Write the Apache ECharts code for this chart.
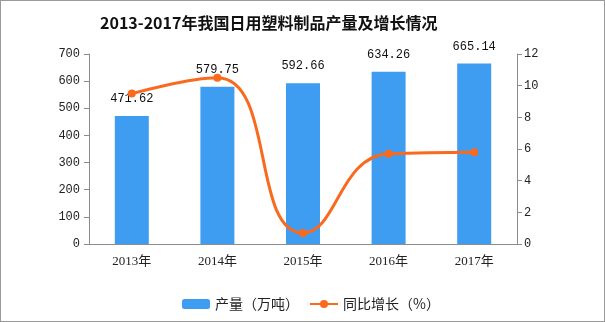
<!DOCTYPE html>
<html>
<head>
<meta charset="utf-8">
<script src="https://cdn.jsdelivr.net/npm/echarts@6/dist/echarts.min.js"></script>
<style>
  html, body { margin: 0; padding: 0; background: #fff; }
  #chart { width: 603px; height: 320px; border: 1px solid #9a9a9a; }
</style>
</head>
<body>
<div id="chart"></div>
<script>
// Yearly output of daily-use plastic products and its year-on-year growth
const years = ['2013年', '2014年', '2015年', '2016年', '2017年'];
const output = [471.62, 579.75, 592.66, 634.26, 665.14];   // 万吨
const growth = [9.5, 10.5, 0.7, 5.7, 5.8];                   // %
const leftTicks = { min: 0, max: 700, interval: 100 };
const rightTicks = { min: 0, max: 12, interval: 2 };

const mono = '"Liberation Mono", "Noto Sans CJK SC", monospace';
const serif = '"Liberation Serif", "Noto Sans CJK SC", serif';
const cjk = '"Noto Sans CJK SC", sans-serif';
const axisGray = '#8c8c8c';

const chart = echarts.init(document.getElementById('chart'), null, { renderer: 'canvas' });
chart.setOption({
  animation: false,
  title: {
    text: '2013-2017年我国日用塑料制品产量及增长情况',
    left: 94,
    top: 9,
    textStyle: { fontFamily: cjk, fontSize: 16, fontWeight: 'bold', color: '#111' }
  },
  legend: {
    left: 176,
    top: 291,
    itemWidth: 28,
    itemHeight: 10,
    itemGap: 10,
    textStyle: { fontFamily: cjk, fontSize: 14, color: '#222' },
    data: ['产量（万吨）', '同比增长（%）']
  },
  grid: { left: 88, right: 87, top: 53, bottom: 77 },
  xAxis: {
    type: 'category',
    data: years,
    axisLine: { lineStyle: { color: axisGray } },
    axisTick: { alignWithLabel: false, length: 5, lineStyle: { color: axisGray } },
    axisLabel: { fontFamily: serif, fontSize: 13, color: '#222', margin: 11 }
  },
  yAxis: [
    {
      type: 'value',
      min: leftTicks.min, max: leftTicks.max, interval: leftTicks.interval,
      axisLine: { show: true, lineStyle: { color: axisGray } },
      axisTick: { show: true, length: 5, lineStyle: { color: axisGray } },
      splitLine: { show: false },
      axisLabel: { fontFamily: mono, fontSize: 12, color: '#222', margin: 9 }
    },
    {
      type: 'value',
      min: rightTicks.min, max: rightTicks.max, interval: rightTicks.interval,
      axisLine: { show: true, lineStyle: { color: axisGray } },
      axisTick: { show: true, length: 5, lineStyle: { color: axisGray } },
      splitLine: { show: false },
      axisLabel: { fontFamily: mono, fontSize: 12, color: '#222', margin: 7 }
    }
  ],
  series: [
    {
      name: '产量（万吨）',
      type: 'bar',
      data: output,
      barWidth: 34,
      itemStyle: { color: '#3e9cf1' },
      label: {
        show: true,
        position: 'top',
        distance: 11,
        fontFamily: mono,
        fontSize: 12,
        color: '#111',
        formatter: p => p.value.toFixed(2)
      }
    },
    {
      name: '同比增长（%）',
      type: 'line',
      yAxisIndex: 1,
      data: growth,
      smooth: true,
      symbol: 'circle',
      symbolSize: 8,
      lineStyle: { width: 3, color: '#fa6a1e' },
      itemStyle: { color: '#fa6a1e' }
    }
  ]
});
</script>
</body>
</html>
